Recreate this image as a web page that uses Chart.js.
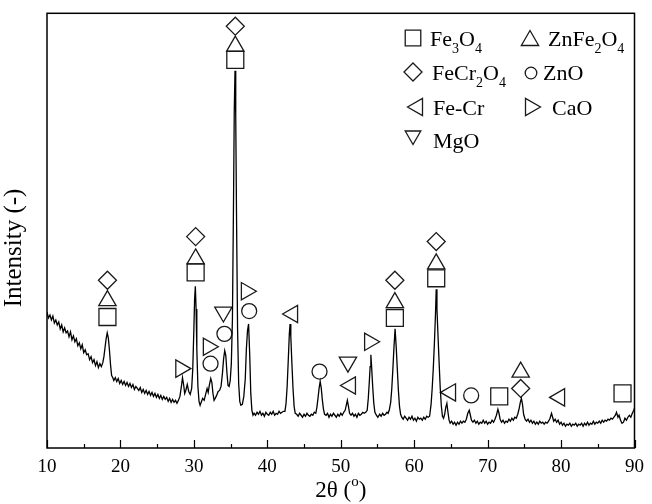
<!DOCTYPE html>
<html lang="en">
<head>
<meta charset="UTF-8">
<title>XRD pattern</title>
<style>
    html, body { margin: 0; padding: 0; background: #fff; }
</style>
</head>
<body>
<canvas id="xrd" width="652" height="504"></canvas>
<script src="https://cdn.jsdelivr.net/npm/chart.js"></script>
<script>
// scan: 2theta (deg) and intensity (arbitrary units)
const twoTheta = [
    10.0, 10.2, 10.4, 10.6, 10.8, 11.0, 11.2, 11.4, 11.6, 11.8,
    12.0, 12.2, 12.4, 12.6, 12.8, 13.0, 13.2, 13.4, 13.6, 13.8,
    14.0, 14.2, 14.4, 14.6, 14.8, 15.0, 15.2, 15.4, 15.6, 15.8,
    16.0, 16.2, 16.4, 16.6, 16.8, 17.0, 17.2, 17.4, 17.6, 17.75,
    17.9, 18.05, 18.2, 18.35, 18.5, 18.65, 18.8, 18.95, 19.1, 19.3,
    19.5, 19.7, 19.9, 20.1, 20.3, 20.5, 20.7, 20.9, 21.1, 21.3,
    21.5, 21.7, 21.9, 22.1, 22.3, 22.5, 22.7, 22.9, 23.1, 23.3,
    23.5, 23.7, 23.9, 24.1, 24.3, 24.5, 24.7, 24.9, 25.1, 25.3,
    25.5, 25.7, 25.9, 26.1, 26.3, 26.5, 26.7, 26.9, 27.1, 27.3,
    27.5, 27.7, 27.9, 28.1, 28.3, 28.45, 28.6, 28.75, 28.9, 29.1,
    29.3, 29.5, 29.7, 29.85, 30.0, 30.1, 30.2, 30.3, 30.4, 30.55,
    30.7, 30.85, 31.0, 31.2, 31.4, 31.6, 31.8, 31.95, 32.1, 32.3,
    32.45, 32.6, 32.75, 32.9, 33.1, 33.3, 33.5, 33.7, 33.9, 34.05,
    34.2, 34.35, 34.5, 34.65, 34.8, 34.95, 35.1, 35.25, 35.4, 35.5,
    35.6, 35.7, 35.8, 35.95, 36.1, 36.25, 36.4, 36.6, 36.8, 37.0,
    37.15, 37.3, 37.45, 37.6, 37.75, 37.9, 38.05, 38.2, 38.4, 38.6,
    38.8, 39.0, 39.2, 39.4, 39.6, 39.8, 40.0, 40.2, 40.4, 40.6,
    40.8, 41.0, 41.2, 41.4, 41.6, 41.8, 42.0, 42.2, 42.4, 42.55,
    42.7, 42.85, 43.0, 43.1, 43.2, 43.35, 43.5, 43.65, 43.8, 44.0,
    44.2, 44.4, 44.6, 44.8, 45.0, 45.2, 45.4, 45.6, 45.8, 46.0,
    46.2, 46.4, 46.6, 46.75, 46.9, 47.05, 47.2, 47.35, 47.5, 47.65,
    47.8, 48.0, 48.2, 48.4, 48.6, 48.8, 49.0, 49.2, 49.4, 49.6,
    49.8, 50.0, 50.2, 50.4, 50.6, 50.75, 50.9, 51.05, 51.2, 51.4,
    51.6, 51.8, 52.0, 52.2, 52.4, 52.6, 52.8, 53.0, 53.2, 53.4,
    53.6, 53.75, 53.9, 54.0, 54.1, 54.2, 54.35, 54.5, 54.65, 54.85,
    55.05, 55.3, 55.5, 55.7, 55.9, 56.1, 56.3, 56.45, 56.6, 56.8,
    56.95, 57.1, 57.25, 57.4, 57.55, 57.7, 57.85, 58.0, 58.15, 58.3,
    58.5, 58.7, 58.9, 59.1, 59.3, 59.5, 59.7, 59.9, 60.1, 60.3,
    60.5, 60.7, 60.9, 61.1, 61.3, 61.5, 61.7, 61.9, 62.1, 62.3,
    62.45, 62.6, 62.75, 62.9, 63.0, 63.1, 63.25, 63.4, 63.55, 63.7,
    63.85, 64.0, 64.15, 64.3, 64.45, 64.6, 64.75, 64.9, 65.1, 65.3,
    65.5, 65.7, 65.9, 66.1, 66.3, 66.5, 66.7, 66.9, 67.1, 67.3,
    67.5, 67.65, 67.8, 68.0, 68.2, 68.4, 68.6, 68.8, 69.0, 69.2,
    69.4, 69.6, 69.8, 70.0, 70.2, 70.4, 70.6, 70.8, 71.0, 71.2,
    71.4, 71.55, 71.7, 71.9, 72.1, 72.3, 72.5, 72.7, 72.9, 73.1,
    73.3, 73.5, 73.7, 73.9, 74.1, 74.3, 74.45, 74.6, 74.75, 74.9,
    75.1, 75.3, 75.5, 75.7, 75.9, 76.1, 76.3, 76.5, 76.7, 76.9,
    77.1, 77.3, 77.5, 77.7, 77.9, 78.1, 78.3, 78.5, 78.7, 78.85,
    79.0, 79.2, 79.4, 79.6, 79.8, 80.0, 80.2, 80.4, 80.6, 80.8,
    81.0, 81.2, 81.4, 81.6, 81.8, 82.0, 82.2, 82.4, 82.6, 82.8,
    83.0, 83.2, 83.4, 83.6, 83.8, 84.0, 84.2, 84.4, 84.6, 84.8,
    85.0, 85.2, 85.4, 85.6, 85.8, 86.0, 86.2, 86.4, 86.6, 86.8,
    87.0, 87.2, 87.4, 87.55, 87.75, 87.9, 88.1, 88.3, 88.5, 88.7,
    88.9, 89.1, 89.3, 89.5, 89.7, 89.9, 90.0
];
const intensity = [
    137, 131, 134, 129, 133, 126, 129, 124, 127, 120,
    124, 117, 121, 116, 118, 112, 117, 109, 113, 107,
    110, 103, 106, 100, 104, 96, 99, 94, 95, 89,
    92, 86, 89, 83, 87, 81, 85, 82, 86, 92,
    101, 110, 116, 111, 99, 84, 73, 71, 68, 71,
    67, 70, 65, 68, 64, 67, 63, 66, 62, 65,
    61, 64, 59, 62, 60, 58, 61, 56, 59, 55,
    58, 54, 57, 53, 56, 52, 55, 51, 54, 50,
    53, 49, 52, 49, 51, 47, 50, 46, 49, 46,
    48, 45, 48, 52, 62, 71, 64, 55, 58, 64,
    57, 54, 60, 80, 120, 150, 163, 140, 100, 62,
    47, 43, 46, 50, 48, 54, 60, 56, 63, 70,
    66, 55, 48, 50, 53, 57, 58, 62, 76, 90,
    98, 93, 76, 63, 62, 68, 85, 130, 250, 340,
    380, 335, 240, 120, 65, 47, 43, 44, 52, 70,
    100, 118, 125, 95, 55, 38, 33, 35, 33, 36,
    34, 37, 33, 35, 32, 36, 34, 33, 36, 34,
    37, 33, 35, 34, 37, 35, 36, 37, 37, 45,
    62, 88, 115, 125, 112, 85, 60, 42, 35, 34,
    32, 35, 33, 31, 34, 32, 35, 33, 32, 34,
    33, 36, 35, 41, 50, 60, 67, 60, 48, 39,
    34, 33, 35, 31, 34, 32, 35, 33, 31, 34,
    32, 35, 33, 36, 38, 43, 48, 42, 35, 33,
    35, 32, 34, 31, 35, 33, 34, 36, 35, 36,
    38, 50, 68, 82, 94, 82, 62, 45, 36, 33,
    31, 34, 32, 35, 33, 34, 36, 35, 38, 46,
    60, 80, 102, 120, 102, 80, 58, 42, 34, 31,
    29, 32, 30, 28, 31, 29, 32, 28, 30, 27,
    31, 29, 30, 28, 31, 29, 32, 31, 32, 44,
    60, 80, 105, 135, 160, 140, 112, 85, 60, 42,
    32, 30, 34, 41, 45, 36, 28, 25, 27, 24,
    26, 23, 26, 24, 27, 25, 27, 26, 29, 35,
    38, 33, 28, 26, 28, 25, 27, 24, 26, 25,
    28, 25, 27, 24, 26, 25, 28, 26, 29, 33,
    39, 35, 29, 26, 28, 25, 27, 26, 29, 27,
    30, 28, 31, 30, 34, 40, 46, 50, 44, 34,
    29, 27, 29, 26, 28, 25, 27, 24, 26, 24,
    27, 25, 26, 24, 26, 25, 27, 30, 35, 31,
    27, 29, 26, 28, 24, 26, 23, 25, 22, 24,
    23, 25, 22, 24, 23, 25, 22, 24, 23, 25,
    22, 25, 23, 26, 23, 25, 24, 27, 24, 26,
    25, 27, 25, 28, 26, 28, 27, 29, 28, 30,
    29, 31, 33, 36, 31, 33, 28, 25, 26, 30,
    28, 31, 33, 31, 35, 38, 40
];

const xTickLabels = [10, 20, 30, 40, 50, 60, 70, 80, 90];
const xMinorTicks = [15, 25, 35, 45, 55, 65, 75, 85];

// phase markers, [2theta, height above the peak]
const fe3o4 = [[18.23, 132], [30.24, 177], [35.64, 391], [57.37, 131], [63.0, 171], [71.58, 52], [88.37, 55]];
const znfe2o4 = [[18.23, 148.5], [30.24, 190.5], [35.64, 405], [57.37, 146.5], [63.0, 185.5], [74.5, 76.5]];
const fecr2o4 = [[18.23, 169], [30.24, 213], [35.64, 425], [57.37, 169], [63.0, 208], [74.5, 60]];
const zno = [[32.27, 85], [34.16, 115], [37.53, 138], [47.11, 77], [67.76, 53]];
const fecr = [[43.44, 135], [51.32, 63], [64.95, 56], [79.8, 51]];
const cao = [[28.22, 80], [31.97, 102], [37.15, 158], [53.93, 107]];
const mgo = [[34.02, 137], [50.98, 86.5]];

const serif = "'Liberation Serif', 'Times New Roman', serif";
const ink = '#1a1a1a';

// style of each phase symbol + where its legend entry sits
const phases = [
    { label: 'Fe3O4',   pts: fe3o4,   style: 'rect',     rot: 0,   r: 12,  lr: 11,  key: [413, 38],    text: [430, 46] },
    { label: 'ZnFe2O4', pts: znfe2o4, style: 'triangle', rot: 0,   r: 10,  lr: 10,  key: [530, 40.5],  text: [548, 46] },
    { label: 'FeCr2O4', pts: fecr2o4, style: 'rectRot',  rot: 0,   r: 9,   lr: 9,   key: [413, 72],    text: [432, 80] },
    { label: 'ZnO',     pts: zno,     style: 'circle',   rot: 0,   r: 7.5, lr: 5.8, key: [531, 73],    text: [543, 80] },
    { label: 'Fe-Cr',   pts: fecr,    style: 'triangle', rot: -90, r: 10,  lr: 10,  key: [417.5, 107], text: [433, 115] },
    { label: 'CaO',     pts: cao,     style: 'triangle', rot: 90,  r: 10,  lr: 10,  key: [530.5, 107], text: [552, 115] },
    { label: 'MgO',     pts: mgo,     style: 'triangle', rot: 180, r: 10,  lr: 9,   key: [413, 135.5], text: [433, 148] }
];

// digits in a formula are written as subscripts
function drawFormula(ctx, text, x, y, size) {
    let cx = x;
    for (const ch of text) {
        const sub = /[0-9]/.test(ch);
        ctx.font = (sub ? Math.round(size * 0.62) : size) + 'px ' + serif;
        ctx.fillText(ch, cx, sub ? y + size * 0.3 : y);
        cx += ctx.measureText(ch).width;
    }
}

function drawSymbol(ctx, p, x, y) {
    const opts = { pointStyle: p.style, rotation: p.rot, radius: p.lr, borderWidth: 1.3 };
    ctx.fillStyle = 'rgba(0,0,0,0)';
    ctx.strokeStyle = ink;
    ctx.lineWidth = 1.3;
    Chart.helpers.drawPoint(ctx, opts, x, y);
}

const framePlugin = {
    id: 'frame',
    afterDraw(chart) {
        const ctx = chart.ctx;
        const a = chart.chartArea;
        const xs = chart.scales.x;
        ctx.save();
        ctx.strokeStyle = '#000';
        ctx.lineWidth = 1.5;
        ctx.strokeRect(a.left, a.top, a.right - a.left, a.bottom - a.top);

        // ticks point inwards
        ctx.lineWidth = 1.2;
        ctx.beginPath();
        xTickLabels.forEach(function (v) {
            const px = Math.round(xs.getPixelForValue(v)) + 0.5;
            ctx.moveTo(px, a.bottom);
            ctx.lineTo(px, a.bottom - 8);
        });
        xMinorTicks.forEach(function (v) {
            const px = Math.round(xs.getPixelForValue(v)) + 0.5;
            ctx.moveTo(px, a.bottom);
            ctx.lineTo(px, a.bottom - 4);
        });
        ctx.stroke();

        ctx.fillStyle = '#000';
        ctx.textBaseline = 'alphabetic';

        // x title: 2θ (°) with a raised o
        const main = '23px ' + serif, small = '15px ' + serif;
        ctx.font = main;
        const w1 = ctx.measureText('2\u03b8 (').width;
        const w3 = ctx.measureText(')').width;
        ctx.font = small;
        const w2 = ctx.measureText('o').width;
        const tx = (a.left + a.right) / 2 - (w1 + w2 + w3) / 2;
        ctx.textAlign = 'left';
        ctx.font = main;
        ctx.fillText('2\u03b8 (', tx, 497);
        ctx.font = small;
        ctx.fillText('o', tx + w1, 486);
        ctx.font = main;
        ctx.fillText(')', tx + w1 + w2, 497);

        // y title
        ctx.save();
        ctx.translate(21, 248);
        ctx.rotate(-Math.PI / 2);
        ctx.textAlign = 'center';
        ctx.font = '25px ' + serif;
        ctx.fillText('Intensity (-)', 0, 0);
        ctx.restore();

        // legend
        ctx.textAlign = 'left';
        phases.forEach(function (p) {
            drawSymbol(ctx, p, p.key[0], p.key[1]);
            ctx.fillStyle = '#000';
            drawFormula(ctx, p.label, p.text[0], p.text[1], 22);
        });
        ctx.restore();
    }
};

const lineData = twoTheta.map(function (t, i) { return { x: t, y: intensity[i] }; });

const markerSets = phases.map(function (p) {
    return {
        label: p.label,
        data: p.pts.map(function (q) { return { x: q[0], y: q[1] }; }),
        showLine: false,
        pointStyle: p.style,
        pointRotation: p.rot,
        pointRadius: p.r,
        pointBorderWidth: 1.3,
        pointBorderColor: ink,
        pointBackgroundColor: 'rgba(0,0,0,0)'
    };
});

new Chart(document.getElementById('xrd'), {
    type: 'line',
    data: {
        datasets: [{
            label: 'scan',
            data: lineData,
            borderColor: '#000',
            borderWidth: 1.3,
            pointRadius: 0,
            tension: 0
        }].concat(markerSets)
    },
    options: {
        responsive: false,
        animation: false,
        events: [],
        layout: { padding: { top: 10, right: 11, left: 0, bottom: 0 } },
        plugins: { legend: { display: false }, tooltip: { enabled: false } },
        scales: {
            x: {
                type: 'linear',
                min: 10,
                max: 90,
                afterBuildTicks: function (scale) {
                    scale.ticks = xTickLabels.map(function (v) { return { value: v }; });
                },
                afterFit: function (scale) { scale.height = 56; },
                grid: { display: false, drawTicks: false },
                border: { display: false },
                ticks: {
                    padding: 8,
                    color: '#000',
                    maxRotation: 0,
                    font: { family: serif, size: 19 }
                }
            },
            y: {
                min: 0,
                max: 438,
                afterFit: function (scale) { scale.width = 47; },
                grid: { display: false, drawTicks: false },
                border: { display: false },
                ticks: { display: false }
            }
        }
    },
    plugins: [framePlugin]
});
</script>
</body>
</html>
